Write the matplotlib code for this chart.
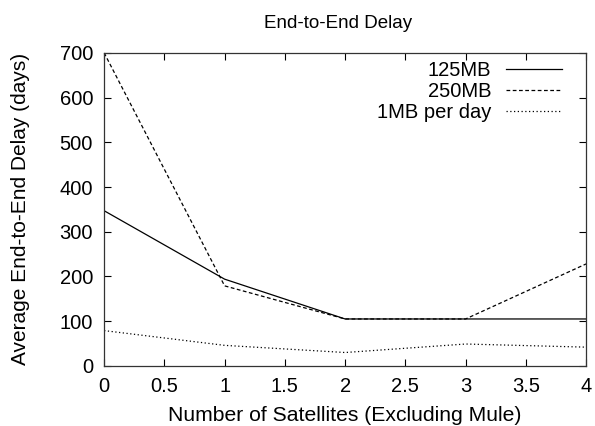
import matplotlib
matplotlib.use("Agg")
import matplotlib.pyplot as plt

plt.rcParams['font.family'] = ['Liberation Sans', 'DejaVu Sans']

satellites = [0, 1, 2, 3, 4]
delay_125mb = [347, 194, 105, 105, 105]
delay_250mb = [700, 179, 105, 105, 228]
delay_1mb = [79, 46, 30, 49, 42]

fig = plt.figure(figsize=(5.95, 4.26), dpi=100)
ax = fig.add_axes([0.175, 0.141, 0.810, 0.735])

ax.plot(satellites, delay_125mb, color='black', lw=0.9, linestyle='-', label='125MB')
ax.plot(satellites, delay_250mb, color='black', lw=0.9, linestyle=(0, (3, 2)), label='250MB')
ax.plot(satellites, delay_1mb, color='black', lw=0.9, linestyle=(0, (1, 2)), label='1MB per day')

ax.set_xlim(0, 4)
ax.set_ylim(0, 700)
ax.set_xticks([0, 0.5, 1, 1.5, 2, 2.5, 3, 3.5, 4])
ax.set_xticklabels(['0', '0.5', '1', '1.5', '2', '2.5', '3', '3.5', '4'])
ax.set_yticks(range(0, 701, 100))
ax.tick_params(direction='in', top=True, right=True, labelsize=14.5, length=5, width=0.8, pad=8)
for s in ax.spines.values():
    s.set_linewidth(0.9)
    s.set_color('#333333')

ax.set_title('End-to-End Delay', fontsize=13.5, pad=18, x=0.485)
ax.set_xlabel('Number of Satellites (Excluding Mule)', fontsize=15.2, labelpad=7)
ax.set_ylabel('Average End-to-End Delay (days)', fontsize=15, labelpad=21)

leg = ax.legend(loc='upper right', bbox_to_anchor=(0.950, 0.974), frameon=False,
                markerfirst=False, fontsize=14.5, handlelength=2.8, handletextpad=0.7,
                labelspacing=0.1, borderaxespad=0, borderpad=0)

fig.savefig('out.png', dpi=100)
